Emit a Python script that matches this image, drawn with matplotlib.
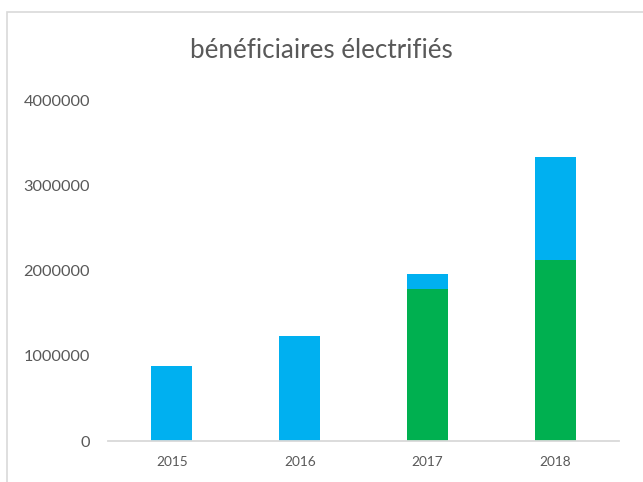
import matplotlib
matplotlib.use("Agg")
import matplotlib.pyplot as plt
from matplotlib.patches import Rectangle
import numpy as np

plt.rcParams['font.family'] = ['Lato', 'DejaVu Sans']

years = ["2015", "2016", "2017", "2018"]
green_values = [0, 0, 1786000, 2127000]
blue_values = [885000, 1238000, 180000, 1206000]
y_ticks = [0, 1000000, 2000000, 3000000, 4000000]
title = "bénéficiaires électrifiés"

GREEN = "#00B050"
BLUE = "#00B0F0"
TEXT = "#595959"
GRID = "#D9D9D9"

fig = plt.figure(figsize=(6.43, 4.82), dpi=100)
ax = fig.add_axes([0.168, 0.085, 0.795, 0.706])

x = np.arange(len(years))
ax.bar(x, green_values, width=0.32, color=GREEN, zorder=2)
ax.bar(x, blue_values, width=0.32, bottom=green_values, color=BLUE, zorder=2)

ax.set_xlim(-0.5, len(years) - 0.5)
ax.set_ylim(0, 4000000)
ax.set_xticks(x)
ax.set_xticklabels(years, fontsize=9.8, color=TEXT)
ax.set_yticks(y_ticks)
ax.set_yticklabels([str(v) for v in y_ticks], fontsize=11.8, color=TEXT)
ax.tick_params(axis='both', length=0)
ax.tick_params(axis='y', pad=13)
ax.tick_params(axis='x', pad=11)

for s in ['top', 'right', 'left']:
    ax.spines[s].set_visible(False)
ax.spines['bottom'].set_color(GRID)
ax.spines['bottom'].set_linewidth(1.3)

fig.text(0.5, 1 - 58 / 482, title, ha='center', va='baseline', fontsize=18.7, color=TEXT)

fig.patches.append(Rectangle((7 / 643, -0.2), 1.5, 1.2 - 12 / 482, transform=fig.transFigure,
                             fill=False, edgecolor=GRID, linewidth=1.2, zorder=0))

fig.savefig("out.png", dpi=100, facecolor="white")
